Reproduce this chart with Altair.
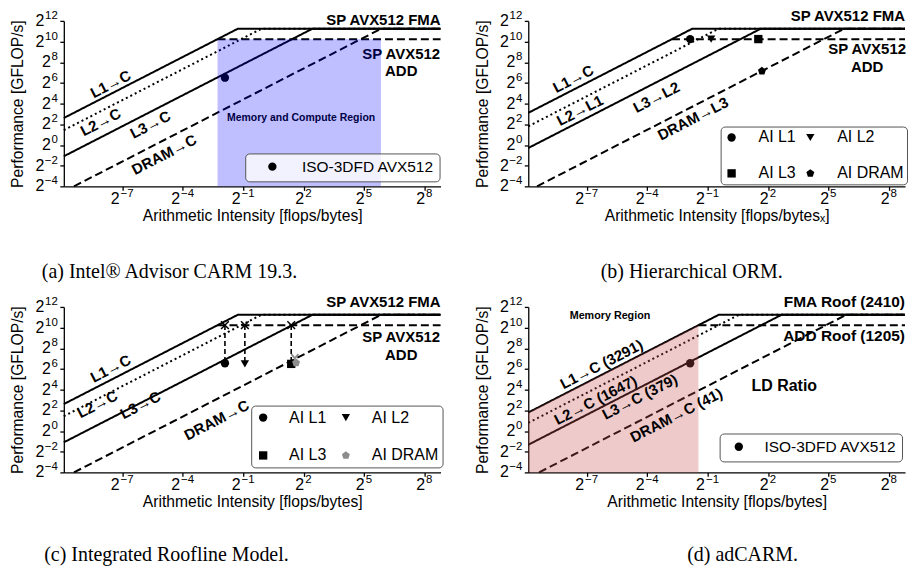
import altair as alt
import pandas as pd

SANS = "Liberation Sans"
SERIF = "Liberation Serif"

# ---------------- data ----------------
XLIM = [0.00105, 446.0]          # arithmetic-intensity axis limits
YLIM = [0.0625, 4096.0]          # performance axis limits
FMA_PEAK = 2410
ADD_PEAK = 1205

X_TICKS = [-7, -4, -1, 2, 5, 8]          # powers of two
Y_TICKS = [-4, -2, 0, 2, 4, 6, 8, 10, 12]

ROOF_STYLE = ["solid", "dotted", "solid", "dashed"]

A_ROOFS = ["L1→C", "L2→C", "L3→C", "DRAM→C"]
A_BW = [5800, 2570, 446, 42]
B_ROOFS = ["L1→C", "L2→L1", "L3→L2", "DRAM→L3"]
B_BW = [8190, 3330, 776, 44]
C_ROOFS = ["L1→C", "L2→C", "L3→C", "DRAM→C"]
C_BW = [5800, 2570, 446, 42]
D_ROOFS = ["L1→C (3291)", "L2→C (1647)", "L3→C (379)", "DRAM→C (41)"]
D_BW = [3291, 1647, 379, 41]

A_PTS = ["ISO-3DFD AVX512"]
A_AI = [0.268]
A_PERF = [91]

# legend order (two columns, filled column by column)
B_PTS = ["AI L1", "AI L3", "AI L2", "AI DRAM"]
B_AI = [0.275, 2.87, 0.566, 3.25]
B_PERF = [1210, 1210, 1210, 142]

C_PTS = ["AI L1", "AI L3", "AI L2", "AI DRAM"]
C_AI = [0.268, 2.62, 0.532, 3.10]
C_PERF = [94, 90, 90, 97]
C_CROSS_AI = [0.268, 0.532, 2.62]
C_CROSS_PERF = [1210, 1210, 1210]
C_ARROW_END = [94, 90, 90]
C_DRAM_HEAD_AI = [2.97]
C_DRAM_HEAD_PERF = [150]

D_PTS = ["ISO-3DFD AVX512"]
D_AI = [0.275]
D_PERF = [94]

PENTAGON = "M0,-1L0.951,-0.309L0.588,0.809L-0.588,0.809L-0.951,-0.309Z"
CROSS = "M-1,-1L1,1M-1,1L1,-1"
CHEVRON = "M-1,-0.6L0,0.6L1,-0.6"
SHAPES4 = ["circle", "square", "triangle-down", PENTAGON]

W, H = 378, 166
BASE_FS, EXP_FS = 16, 11.5
BASE_W, EXP_W = 8.9, 6.5


def fmt(e):
    return str(e).replace("-", "−")


def enc_xy(xtitle):
    x = alt.X("ai:Q",
              scale=alt.Scale(type="log", base=2, domain=XLIM, nice=False),
              axis=alt.Axis(values=[2.0 ** e for e in X_TICKS], labels=False,
                            title=xtitle, titleX=W / 2, titleY=22, titleBaseline="top"))
    y = alt.Y("perf:Q",
              scale=alt.Scale(type="log", base=2, domain=YLIM, nice=False),
              axis=alt.Axis(values=[2.0 ** e for e in Y_TICKS], labels=False,
                            title="Performance [GFLOP/s]", titleX=-46, titleY=H / 2,
                            titleAngle=270, titleBaseline="middle", titleAlign="center"))
    return x, y


def tick_labels(X, Y):
    layers = []
    for n in (1, 2):
        ys = [e for e in Y_TICKS if len(fmt(e)) == n]
        dfy = pd.DataFrame({"perf": [2.0 ** e for e in ys], "exp": [fmt(e) for e in ys]})
        layers.append(alt.Chart(dfy).mark_text(
            align="right", baseline="middle", fontSize=EXP_FS, font=SANS, color="black", dy=-5
        ).encode(x=alt.value(-6), y=Y, text="exp:N"))
        layers.append(alt.Chart(dfy).mark_text(
            text="2", align="right", baseline="middle", fontSize=BASE_FS, font=SANS, color="black"
        ).encode(x=alt.value(-6.5 - n * EXP_W), y=Y))

        xs = [e for e in X_TICKS if len(fmt(e)) == n]
        dfx = pd.DataFrame({"ai": [2.0 ** e for e in xs], "exp": [fmt(e) for e in xs]})
        total = BASE_W + 1 + n * EXP_W
        layers.append(alt.Chart(dfx).mark_text(
            text="2", align="left", baseline="top", fontSize=BASE_FS, font=SANS, color="black",
            dx=-total / 2
        ).encode(x=X, y=alt.value(H + 5)))
        layers.append(alt.Chart(dfx).mark_text(
            align="left", baseline="top", fontSize=EXP_FS, font=SANS, color="black",
            dx=-total / 2 + BASE_W + 1
        ).encode(x=X, y=alt.value(H + 2), text="exp:N"))
    return layers


def roofs(X, Y, names, bws):
    rows = []
    for name, bw, style in zip(names, bws, ROOF_STYLE):
        x0 = max(XLIM[0], YLIM[0] / bw)
        for ai in (x0, FMA_PEAK / bw, XLIM[1]):
            rows.append(dict(roof=name, ai=ai, perf=min(bw * ai, FMA_PEAK), style=style))
    for ai in (ADD_PEAK / bws[0], XLIM[1]):
        rows.append(dict(roof="ADD", ai=ai, perf=ADD_PEAK, style="dashed"))
    df = pd.DataFrame(rows)
    return alt.Chart(df).mark_line(strokeWidth=2, color="black").encode(
        x=X, y=Y, detail="roof:N", order="ai:Q",
        strokeDash=alt.StrokeDash("style:N", legend=None,
                                  scale=alt.Scale(domain=["solid", "dotted", "dashed"],
                                                  range=[[1, 0], [2, 3], [8, 4]])))


def note(X, Y, text, lx, ly, size=15, angle=0, align="center", baseline="middle",
         weight="bold", color="black"):
    df = pd.DataFrame({"ai": [2.0 ** lx], "perf": [2.0 ** ly]})
    return alt.Chart(df).mark_text(text=text, fontSize=size, angle=angle, align=align,
                                   baseline=baseline, fontWeight=weight, color=color,
                                   font=SANS, lineHeight=17.5).encode(x=X, y=Y)


def caption(text, px, py):
    return alt.Chart(pd.DataFrame({"k": [0]})).mark_text(
        text=text, font=SERIF, fontSize=20, color="black", align="center", baseline="middle"
    ).encode(x=alt.value(px), y=alt.value(py))


def legend(x, y, cols=1, pad=5, sym_off=0, lab_off=20, row_pad=0, col_pad=10, size=16,
           fill="rgba(255,255,255,0.8)"):
    return alt.Legend(orient="none", legendX=x, legendY=y, columns=cols, title=None,
                      padding=pad, symbolOffset=sym_off, labelOffset=lab_off,
                      rowPadding=row_pad, columnPadding=col_pad, labelFontSize=size,
                      labelFont=SANS, labelColor="black", fillColor=fill,
                      strokeColor="#555555", cornerRadius=4, symbolSize=70,
                      symbolStrokeWidth=0, labelLimit=300)


def points(X, Y, names, ai, perf, shapes, colors, leg):
    df = pd.DataFrame({"series": names, "ai": ai, "perf": perf})
    return alt.Chart(df).mark_point(filled=True, opacity=1, size=70).encode(
        x=X, y=Y,
        shape=alt.Shape("series:N", scale=alt.Scale(domain=names, range=shapes), legend=leg),
        color=alt.Color("series:N", scale=alt.Scale(domain=names, range=colors), legend=leg))


ANG = 333  # slope of the memory roofs on screen
CAP_TOP, CAP_BOTTOM = 252, 249

# ---------------- panel (a) ----------------
Xa, Ya = enc_xy("Arithmetic Intensity [flops/bytes]")
region_a = pd.DataFrame({"ai": [ADD_PEAK / A_BW[0]], "ai2": [FMA_PEAK / A_BW[3]],
                         "perf": [YLIM[0]], "perf2": [ADD_PEAK]})
pa = alt.layer(
    roofs(Xa, Ya, A_ROOFS, A_BW),
    *tick_labels(Xa, Ya),
    note(Xa, Ya, A_ROOFS[0], -7.57, 5.88, angle=ANG),
    note(Xa, Ya, A_ROOFS[1], -8.07, 2.19, angle=ANG),
    note(Xa, Ya, A_ROOFS[2], -5.6, 1.95, angle=ANG),
    note(Xa, Ya, A_ROOFS[3], -4.91, -0.94, angle=ANG),
    note(Xa, Ya, "SP AVX512 FMA", 8.8, 12.12, align="right"),
    note(Xa, Ya, ["SP AVX512", "ADD"], 6.85, 8.82),
    note(Xa, Ya, "Memory and Compute Region", 1.88, 2.58, size=10.5),
    points(Xa, Ya, A_PTS, A_AI, A_PERF, ["circle"], ["black"],
           legend(182, 133, pad=5.5, sym_off=14, lab_off=22, size=15.5)),
    alt.Chart(region_a).mark_rect(color="#0000ff", opacity=0.25).encode(
        x=Xa, x2="ai2:Q", y=Ya, y2="perf2:Q"),
    caption("(a) Intel® Advisor CARM 19.3.", 106, CAP_TOP),
).properties(width=W, height=H)

# ---------------- panel (b) ----------------
Xb, Yb = enc_xy("Arithmetic Intensity [flops/bytesₓ]")
pb = alt.layer(
    roofs(Xb, Yb, B_ROOFS, B_BW),
    *tick_labels(Xb, Yb),
    note(Xb, Yb, B_ROOFS[0], -7.66, 6.38, angle=ANG),
    note(Xb, Yb, B_ROOFS[1], -7.33, 3.33, angle=ANG),
    note(Xb, Yb, B_ROOFS[2], -3.54, 4.6, angle=ANG),
    note(Xb, Yb, B_ROOFS[3], -1.72, 2.53, angle=ANG),
    note(Xb, Yb, "SP AVX512 FMA", 8.8, 12.45, align="right"),
    note(Xb, Yb, ["SP AVX512", "ADD"], 6.92, 9.27),
    points(Xb, Yb, B_PTS, B_AI, B_PERF, SHAPES4, ["black"] * 4,
           legend(193, 106, cols=2, pad=3, lab_off=19, row_pad=20, col_pad=6, fill="white")),
    caption("(b) Hierarchical ORM.", 164, CAP_TOP),
).properties(width=W, height=H)

# ---------------- panel (c) ----------------
Xc, Yc = enc_xy("Arithmetic Intensity [flops/bytes]")
arrows_c = pd.DataFrame({"ai": C_CROSS_AI, "perf": C_CROSS_PERF, "end": C_ARROW_END})
head_c = pd.DataFrame({"ai": C_DRAM_HEAD_AI, "perf": C_DRAM_HEAD_PERF})
pc = alt.layer(
    roofs(Xc, Yc, C_ROOFS, C_BW),
    *tick_labels(Xc, Yc),
    alt.Chart(arrows_c).mark_rule(strokeDash=[5, 3], strokeWidth=1.6, color="black").encode(
        x=Xc, y=Yc, y2="end:Q"),
    alt.Chart(arrows_c).mark_point(shape=CROSS, filled=False, size=60, strokeWidth=1.5,
                                   color="black", opacity=1).encode(x=Xc, y=Yc),
    alt.Chart(head_c).mark_point(shape=CHEVRON, filled=False, size=50, strokeWidth=1.8,
                                 color="#8c8c8c", opacity=1).encode(x=Xc, y=Yc),
    note(Xc, Yc, C_ROOFS[0], -7.57, 6.02, angle=ANG),
    note(Xc, Yc, C_ROOFS[1], -8.23, 2.58, angle=ANG),
    note(Xc, Yc, C_ROOFS[2], -6.09, 2.49, angle=ANG),
    note(Xc, Yc, C_ROOFS[3], -2.31, 1.04, angle=ANG),
    note(Xc, Yc, "SP AVX512 FMA", 8.8, 12.44, align="right"),
    note(Xc, Yc, ["SP AVX512", "ADD"], 6.85, 9.07),
    points(Xc, Yc, C_PTS, C_AI, C_PERF, SHAPES4, ["black", "black", "black", "#8c8c8c"],
           legend(188, 99, cols=2, pad=4, lab_off=18, row_pad=22, col_pad=11, fill="white")),
    caption("(c) Integrated Roofline Model.", 103, CAP_BOTTOM),
).properties(width=W, height=H)

# ---------------- panel (d) ----------------
Xd, Yd = enc_xy("Arithmetic Intensity [flops/bytes]")
region_d = pd.DataFrame({"ai": [XLIM[0], ADD_PEAK / D_BW[0]],
                         "perf": [D_BW[0] * XLIM[0], ADD_PEAK],
                         "base": [YLIM[0], YLIM[0]]})
pd_ = alt.layer(
    roofs(Xd, Yd, D_ROOFS, D_BW),
    *tick_labels(Xd, Yd),
    points(Xd, Yd, D_PTS, D_AI, D_PERF, ["circle"], ["black"],
           legend(192, 127, pad=5.5, sym_off=6, lab_off=18, size=15.5, fill="white")),
    alt.Chart(region_d).mark_area(color="#c85050", opacity=0.3).encode(
        x=Xd, y=Yd, y2="base:Q"),
    note(Xd, Yd, D_ROOFS[0], -6.26, 6.44, angle=ANG),
    note(Xd, Yd, D_ROOFS[1], -6.55, 2.97, angle=ANG),
    note(Xd, Yd, D_ROOFS[2], -4.36, 3.29, angle=ANG),
    note(Xd, Yd, D_ROOFS[3], -2.55, 1.52, angle=ANG),
    note(Xd, Yd, "FMA Roof (2410)", 8.8, 12.44, align="right", size=15.5),
    note(Xd, Yd, "ADD Roof (1205)", 8.8, 9.23, align="right", size=15.5),
    note(Xd, Yd, "LD Ratio", 2.81, 4.32, size=16),
    note(Xd, Yd, "Memory Region", -5.84, 11.16, size=10.8),
    caption("(d) adCARM.", 215, CAP_BOTTOM),
).properties(width=W, height=H)

chart = alt.concat(
    pa, pb, pc, pd_, columns=2, spacing={"row": 121, "column": 88}, bounds="flush",
    padding={"left": 2, "top": 0, "right": 0, "bottom": 0},
).resolve_scale(
    x="independent", y="independent", color="independent", shape="independent",
    strokeDash="independent"
).resolve_legend(color="independent", shape="independent").configure_view(
    stroke=None
).configure_axis(
    grid=False, domainColor="black", domainWidth=1.3, tickColor="black", tickWidth=1.3,
    tickSize=4, titleFont=SANS, titleFontSize=15.7, titleFontWeight="normal",
    titleColor="black"
)

chart.save("out.html", embed_options={"renderer": "svg", "actions": False})
